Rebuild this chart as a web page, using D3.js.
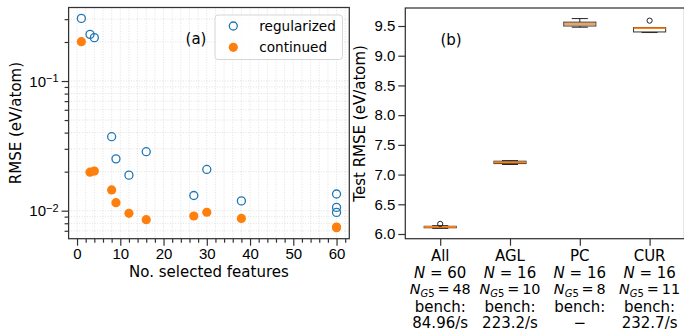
<!DOCTYPE html>
<html>
<head>
<meta charset="utf-8">
<script src="https://cdn.jsdelivr.net/npm/d3@7"></script>
<style>
  body { margin: 0; background: #fff; }
  svg { display: block; font-family: "DejaVu Sans", sans-serif; }
  .tick text { font-size: 15px; fill: #000; }
</style>
</head>
<body>
<svg width="684" height="331"></svg>
<script>
// (a) RMSE vs number of selected features
const featuresReg = [1, 3, 4, 8, 9, 12, 16, 27, 30, 38, 60, 60, 60];
const rmseReg = [0.304, 0.229, 0.216, 0.0372, 0.0251, 0.0188, 0.0285, 0.0131, 0.0208, 0.0119, 0.01345, 0.0106, 0.0097];
const featuresCont = [1, 3, 4, 8, 9, 12, 16, 27, 30, 38, 60, 60];
const rmseCont = [0.201, 0.0198, 0.0202, 0.01445, 0.01153, 0.00955, 0.00853, 0.0091, 0.00973, 0.00871, 0.00748, 0.0074];
const xTicksA = [0, 10, 20, 30, 40, 50, 60];

// (b) test RMSE boxes
const categories = ["All", "AGL", "PC", "CUR"];
const nFeatures = [60, 16, 16, 16];
const nG5 = [48, 10, 8, 11];
const bench = ["84.96/s", "223.2/s", "\u2212", "232.7/s"];
const whisLo = [6.095, 7.17, 9.48, 9.39];
const q1 = [6.105, 7.185, 9.50, 9.40];
const median = [6.12, 7.205, 9.535, 9.465];
const q3 = [6.13, 7.225, 9.565, 9.475];
const whisHi = [6.14, 7.235, 9.625, 9.475];
const outliers = [[6.17], [], [], [9.59]];
const yTicksB = [6.0, 6.5, 7.0, 7.5, 8.0, 8.5, 9.0, 9.5];

const blue = "#1f77b4", orange = "#ff7f0e";
const spine = "#333";

const svg = d3.select("svg");
svg.append("rect").attr("width", 684).attr("height", 331).attr("fill", "#fff");

// ---------- panel (a) ----------
const A = {left: 68.6, right: 349.3, top: 7.5, bottom: 238.7};
const xA = d3.scaleLinear().domain([-1.95, 62.95]).range([A.left, A.right]);
const yA = d3.scaleLog().domain([Math.pow(10, -2.216), Math.pow(10, -0.433)]).range([A.bottom, A.top]);

const minorX = d3.range(0, 63, 2).filter(d => d % 10 !== 0);
const minorY = [0.007, 0.008, 0.009, 0.02, 0.03, 0.04, 0.05, 0.06, 0.07, 0.08, 0.09, 0.2, 0.3];
const majorY = [0.01, 0.1];

const gA = svg.append("g");

// grid (major + minor, dotted)
gA.append("g").selectAll("line")
  .data(d3.range(0, 63, 2))
  .join("line")
  .attr("x1", d => xA(d)).attr("x2", d => xA(d))
  .attr("y1", A.top).attr("y2", A.bottom)
  .attr("stroke", "#d9d9d9").attr("stroke-width", 0.8).attr("stroke-dasharray", "1,1.6");
gA.append("g").selectAll("line")
  .data(minorY.concat(majorY))
  .join("line")
  .attr("x1", A.left).attr("x2", A.right)
  .attr("y1", d => yA(d)).attr("y2", d => yA(d))
  .attr("stroke", "#d9d9d9").attr("stroke-width", 0.8).attr("stroke-dasharray", "1,1.6");

// axes
gA.append("g").attr("transform", `translate(0,${A.bottom})`)
  .call(d3.axisBottom(xA).tickValues(xTicksA).tickSize(7).tickPadding(3).tickFormat(d3.format("d")));
gA.append("g").attr("transform", `translate(0,${A.bottom})`)
  .call(d3.axisBottom(xA).tickValues(minorX).tickSize(4).tickFormat(""));
const axYA = gA.append("g").attr("transform", `translate(${A.left},0)`)
  .call(d3.axisLeft(yA).tickValues(majorY).tickSize(7).tickPadding(3).tickFormat(""));
gA.append("g").attr("transform", `translate(${A.left},0)`)
  .call(d3.axisLeft(yA).tickValues(minorY).tickSize(4).tickFormat(""));

axYA.selectAll(".tick text").each(function(d) {
  const t = d3.select(this);
  t.text(null).attr("dy", "0.35em");
  t.append("tspan").text("10");
  t.append("tspan").attr("dy", "-0.45em").attr("font-size", "11px").text("\u2212" + Math.round(-Math.log10(d)));
});

// frame
gA.append("rect").attr("x", A.left).attr("y", A.top)
  .attr("width", A.right - A.left).attr("height", A.bottom - A.top)
  .attr("fill", "none").attr("stroke", spine).attr("stroke-width", 1.25);

// points
gA.append("g").selectAll("circle")
  .data(featuresReg.map((f, i) => [f, rmseReg[i]]))
  .join("circle")
  .attr("cx", d => xA(d[0])).attr("cy", d => yA(d[1])).attr("r", 4)
  .attr("fill", "none").attr("stroke", blue).attr("stroke-width", 1.3);
gA.append("g").selectAll("circle")
  .data(featuresCont.map((f, i) => [f, rmseCont[i]]))
  .join("circle")
  .attr("cx", d => xA(d[0])).attr("cy", d => yA(d[1])).attr("r", 4.6)
  .attr("fill", orange);

// labels
gA.append("text").attr("x", (A.left + A.right) / 2).attr("y", 277.3)
  .attr("text-anchor", "middle").attr("font-size", 15).text("No. selected features");
gA.append("text").attr("transform", `translate(20.5,${(A.top + A.bottom) / 2}) rotate(-90)`)
  .attr("text-anchor", "middle").attr("font-size", 15).text("RMSE (eV/atom)");
gA.append("text").attr("x", 196).attr("y", 43.5).attr("text-anchor", "middle")
  .attr("font-size", 15).text("(a)");

// legend
const leg = gA.append("g");
leg.append("rect").attr("x", 215).attr("y", 15).attr("width", 127.5).attr("height", 44.5).attr("rx", 3)
  .attr("fill", "#fff").attr("fill-opacity", 0.8).attr("stroke", "#d6d6d6").attr("stroke-width", 1);
leg.append("circle").attr("cx", 233.3).attr("cy", 26).attr("r", 4)
  .attr("fill", "none").attr("stroke", blue).attr("stroke-width", 1.3);
leg.append("circle").attr("cx", 233.3).attr("cy", 47.3).attr("r", 4.6).attr("fill", orange);
leg.append("text").attr("x", 259.3).attr("y", 26).attr("dy", "0.35em").attr("font-size", 13.6).text("regularized");
leg.append("text").attr("x", 259.3).attr("y", 47.3).attr("dy", "0.35em").attr("font-size", 13.6).text("continued");

// ---------- panel (b) ----------
const B = {left: 405.3, right: 684.5, top: 8, bottom: 238.7};
const xB = d3.scaleLinear().domain([0.5, 4.5]).range([B.left, B.right]);
const yB = d3.scaleLinear().domain([5.921, 9.803]).range([B.bottom, B.top]);
const gB = svg.append("g");

gB.append("g").attr("transform", `translate(${B.left},0)`)
  .call(d3.axisLeft(yB).tickValues(yTicksB).tickSize(7).tickPadding(3).tickFormat(d3.format(".1f")));
gB.append("g").attr("transform", `translate(0,${B.bottom})`)
  .call(d3.axisBottom(xB).tickValues([1, 2, 3, 4]).tickSize(7).tickFormat(""));

gB.append("rect").attr("x", B.left).attr("y", B.top)
  .attr("width", B.right - B.left).attr("height", B.bottom - B.top)
  .attr("fill", "none").attr("stroke", spine).attr("stroke-width", 1.25);

// boxes
const bw = 0.46;
categories.forEach((c, i) => {
  const p = i + 1;
  const g = gB.append("g");
  const xl = xB(p - bw / 2), xr = xB(p + bw / 2);
  const cl = xB(p - bw / 4), cr = xB(p + bw / 4);
  g.append("line").attr("x1", xB(p)).attr("x2", xB(p)).attr("y1", yB(q1[i])).attr("y2", yB(whisLo[i]))
    .attr("stroke", "#222").attr("stroke-width", 1);
  g.append("line").attr("x1", xB(p)).attr("x2", xB(p)).attr("y1", yB(q3[i])).attr("y2", yB(whisHi[i]))
    .attr("stroke", "#222").attr("stroke-width", 1);
  g.append("line").attr("x1", cl).attr("x2", cr).attr("y1", yB(whisLo[i])).attr("y2", yB(whisLo[i]))
    .attr("stroke", "#222").attr("stroke-width", 1);
  g.append("line").attr("x1", cl).attr("x2", cr).attr("y1", yB(whisHi[i])).attr("y2", yB(whisHi[i]))
    .attr("stroke", "#222").attr("stroke-width", 1);
  g.append("rect").attr("x", xl).attr("y", yB(q3[i])).attr("width", xr - xl)
    .attr("height", Math.max(0.5, yB(q1[i]) - yB(q3[i])))
    .attr("fill", "none").attr("stroke", "#333").attr("stroke-width", 1);
  g.append("line").attr("x1", xl).attr("x2", xr).attr("y1", yB(median[i])).attr("y2", yB(median[i]))
    .attr("stroke", orange).attr("stroke-width", 1.6);
  g.selectAll("circle").data(outliers[i]).join("circle")
    .attr("cx", xB(p)).attr("cy", d => yB(d)).attr("r", 2.6)
    .attr("fill", "none").attr("stroke", "#222").attr("stroke-width", 1);
});

// multi-line category labels
const lab = gB.append("g").attr("font-size", 15).attr("text-anchor", "middle");
categories.forEach((c, i) => {
  const cx = xB(i + 1);
  lab.append("text").attr("x", cx).attr("y", 260.7).text(c);
  const t2 = lab.append("text").attr("x", cx).attr("y", 277.6);
  t2.append("tspan").attr("font-style", "italic").text("N");
  t2.append("tspan").text(" = " + nFeatures[i]);
  const t3 = lab.append("text").attr("x", cx).attr("y", 294.4).attr("font-size", 14.4);
  t3.append("tspan").attr("font-style", "italic").text("N");
  t3.append("tspan").attr("font-style", "italic").attr("font-size", 10).attr("dy", 3).text("G");
  t3.append("tspan").attr("font-size", 10).text("5");
  t3.append("tspan").attr("dy", -3).text("\u2009=\u2009" + nG5[i]);
  lab.append("text").attr("x", cx).attr("y", 311.5).text("bench:");
  lab.append("text").attr("x", cx).attr("y", 328.3).text(bench[i]);
});

gB.append("text").attr("transform", `translate(364.5,${(B.top + B.bottom) / 2}) rotate(-90)`)
  .attr("text-anchor", "middle").attr("font-size", 15).text("Test RMSE (eV/atom)");
gB.append("text").attr("x", 451).attr("y", 44.5).attr("text-anchor", "middle")
  .attr("font-size", 15).text("(b)");

svg.selectAll(".domain").remove();
svg.selectAll(".tick line").attr("stroke", spine).attr("stroke-width", 1.2);
</script>
</body>
</html>
